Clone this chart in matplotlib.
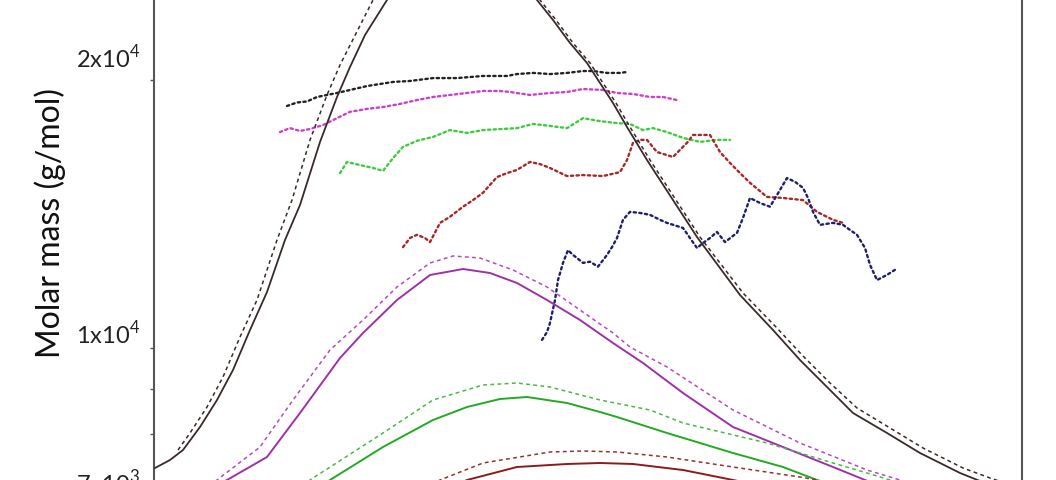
import numpy as np
import matplotlib
matplotlib.use('Agg')
import matplotlib.pyplot as plt
from matplotlib.transforms import ScaledTranslation

plt.rcParams['font.family'] = ['Lato', 'DejaVu Sans']
plt.rcParams['mathtext.fontset'] = 'custom'
plt.rcParams['mathtext.rm'] = 'Lato'

#####################################################################
# data
# x : elution volume (mL), signal : detector response (a.u.),
# molar mass : g/mol
#####################################################################

# concentration traces (solid = measured, dashed = second detector)
blk_x = [8.02, 8.32, 8.58, 8.92, 9.26, 9.58, 9.92, 10.26, 10.62, 10.92, 11.32, 11.66,
         11.92, 12.22, 12.66, 13.12, 13.72, 14.22, 14.72, 15.22, 15.66, 15.98, 16.32,
         16.66, 16.92, 17.18, 17.46, 17.86, 18.86, 19.72, 20.38, 20.92, 21.46, 21.98,
         22.66, 23.32, 24.12, 24.62, 25.32]
blk_s = [14.4, 16.0, 18.0, 22.6, 28.0, 34.0, 42.0, 49.6, 60.0, 67.0, 79.6, 88.6,
         94.6, 101.0, 108.0, 114.4, 118.0, 119.0, 118.0, 114.0, 108.0, 104.0, 99.4,
         95.4, 91.4, 87.4, 82.6, 76.0, 60.6, 49.0, 42.0, 36.0, 30.6, 25.4,
         21.4, 17.4, 13.4, 11.4, 9.0]
blk_dx = [8.48, 8.72, 9.06, 9.38, 9.72, 10.06, 10.46, 10.76, 11.12, 11.46, 11.72, 12.38,
          12.92, 13.52, 14.08, 14.62, 15.12, 15.72, 16.04, 16.38, 16.72, 16.98, 17.24,
          17.52, 17.92, 18.92, 19.78, 20.44, 20.98, 21.52, 22.06, 22.72, 23.38, 24.18,
          24.72, 25.32]
blk_ds = [18.0, 21.4, 26.6, 32.6, 40.6, 48.0, 60.0, 68.0, 80.0, 89.0, 95.0, 108.0,
          116.0, 120.0, 121.4, 120.4, 116.4, 108.0, 104.0, 99.4, 95.4, 91.4, 87.4,
          82.6, 76.0, 60.6, 49.4, 42.6, 36.8, 31.4, 26.4, 22.4, 18.4, 14.4,
          12.4, 10.4]

mag_x = [8.92, 9.46, 10.26, 10.92, 11.72, 12.18, 12.86, 13.52, 14.18, 14.72, 15.26,
         15.86, 16.52, 17.18, 17.78, 18.58, 19.58, 20.58, 21.58, 22.32, 22.92]
mag_s = [9.0, 12.0, 16.6, 25.4, 36.4, 41.4, 48.0, 53.0, 54.2, 53.4, 51.4,
         48.0, 44.0, 39.4, 35.4, 29.4, 22.6, 18.6, 14.6, 11.6, 9.6]
mag_dx = [8.72, 9.26, 10.12, 10.78, 11.52, 12.18, 12.86, 13.52, 13.98, 14.52, 15.18,
          15.86, 16.52, 17.18, 17.52, 18.26, 19.58, 20.92, 22.26, 22.92, 23.52]
mag_ds = [9.0, 12.0, 18.6, 28.0, 38.0, 44.0, 50.6, 55.4, 56.8, 56.4, 54.0,
          50.6, 46.0, 41.4, 38.6, 34.6, 26.0, 19.4, 14.0, 12.0, 10.0]

grn_x = [11.12, 11.52, 12.58, 13.58, 14.26, 14.92, 15.46, 16.26, 16.92, 17.26, 18.26,
         19.58, 20.58, 21.26, 21.92]
grn_s = [9.0, 12.0, 18.6, 24.0, 26.6, 28.2, 28.6, 27.4, 25.6, 24.6, 21.4,
         17.4, 14.6, 12.0, 10.0]
grn_dx = [10.62, 11.12, 12.58, 13.58, 14.58, 15.26, 15.92, 16.92, 17.92, 18.58, 20.26,
          21.58, 22.26, 22.92]
grn_ds = [9.0, 12.0, 21.4, 28.0, 31.0, 31.4, 30.6, 28.0, 26.0, 23.4, 19.4,
          15.4, 13.4, 11.4]

red_x = [13.72, 14.26, 15.26, 16.26, 16.92, 17.58, 18.58, 19.58, 20.52]
red_s = [9.0, 12.0, 14.6, 15.2, 15.4, 15.2, 14.0, 12.0, 10.0]
red_dx = [13.12, 13.72, 14.58, 15.92, 16.58, 17.26, 18.26, 19.58, 20.92, 21.26, 22.12]
red_ds = [9.0, 12.0, 15.4, 17.6, 17.8, 17.6, 16.6, 14.6, 12.6, 12.0, 10.0]

# molar mass across the peaks (dotted)
mw_blk_x = [10.66, 10.86, 11.06, 11.26, 11.46, 11.66, 11.92, 12.26, 12.78, 13.12, 13.58,
            14.06, 14.58, 15.06, 15.26, 15.58, 15.92, 16.26, 16.58, 16.78, 17.06, 17.32, 17.46]
mw_blk = [18700, 18870, 18920, 19140, 19240, 19340, 19490, 19690, 19900, 19950, 20100,
          20100, 20210, 20210, 20310, 20370, 20310, 20370, 20470, 20470, 20370, 20370, 20420]

mw_mag_x = [10.52, 10.72, 10.92, 11.12, 11.38, 11.66, 11.92, 12.26, 12.58, 12.92, 13.26,
            13.58, 13.92, 14.26, 14.58, 14.92, 15.12, 15.52, 15.92, 16.26, 16.58, 16.98,
            17.26, 17.58, 17.92, 18.18, 18.46]
mw_mag = [17480, 17660, 17530, 17620, 17800, 18120, 18420, 18560, 18650, 18800, 18990,
          19140, 19240, 19340, 19440, 19440, 19390, 19240, 19340, 19390, 19540, 19490,
          19340, 19290, 19140, 19140, 18990]

mw_grn_x = [11.72, 11.86, 12.12, 12.38, 12.58, 12.78, 12.98, 13.26, 13.58, 13.92, 14.26,
            14.58, 15.26, 15.58, 15.92, 16.26, 16.58, 16.92, 17.26, 17.52, 17.78, 17.98,
            18.26, 18.58, 18.92, 19.26, 19.52]
mw_grn = [15720, 16180, 16050, 15930, 15810, 16340, 16820, 17090, 17260, 17570, 17440,
          17570, 17660, 17850, 17760, 17660, 18120, 17980, 17890, 17850, 17570, 17660,
          17480, 17220, 17040, 17130, 17130]

mw_red_x = [12.98, 13.12, 13.26, 13.42, 13.52, 13.72, 13.92, 14.18, 14.38, 14.58, 14.72,
            14.86, 15.06, 15.26, 15.52, 15.72, 15.92, 16.26, 16.58, 16.98, 17.32, 17.46,
            17.58, 17.72, 17.86, 18.06, 18.38, 18.66, 18.78, 19.12, 19.32, 19.52, 19.72,
            19.92, 20.26, 20.58, 20.98, 21.26, 21.58, 21.78]
mw_red = [12980, 13290, 13400, 13290, 13150, 13820, 14040, 14410, 14660, 14940, 15250,
          15560, 15720, 15850, 16180, 16090, 15930, 15600, 15640, 15600, 15760, 16260,
          17000, 17130, 17130, 16600, 16390, 17000, 17350, 17350, 16600, 16140, 15720,
          15330, 14780, 14740, 14660, 14220, 13930, 13820]

mw_blu_x = [15.76, 15.86, 15.92, 16.02, 16.08, 16.18, 16.28, 16.38, 16.46, 16.58, 16.72,
            16.88, 17.06, 17.16, 17.26, 17.38, 17.52, 17.72, 17.92, 18.12, 18.26, 18.58,
            18.72, 18.86, 18.98, 19.12, 19.26, 19.42, 19.66, 19.78, 19.92, 20.12, 20.32,
            20.52, 20.66, 20.82, 20.98, 21.08, 21.18, 21.32, 21.58, 21.78, 21.92, 22.06,
            22.22, 22.32, 22.46, 22.66, 22.82]
mw_blu = [10210, 10420, 10670, 11320, 11920, 12460, 12880, 12720, 12620, 12460, 12500,
          12340, 12720, 12980, 13290, 13930, 14220, 14180, 14110, 13930, 13820, 13640,
          13290, 12950, 13120, 13290, 13500, 13150, 13470, 14000, 14740, 14550, 14410,
          15050, 15520, 15370, 15130, 14740, 14220, 13750, 13820, 13750, 13570, 13400,
          12950, 12400, 11920, 12080, 12240]

ytick_vals = [7e3, 1e4, 2e4]
ytick_text = [r'7x10$^{3}$', r'1x10$^{4}$', r'2x10$^{4}$']

#####################################################################
# plotting
#####################################################################
fig = plt.figure(figsize=(10.56, 4.8), dpi=100)
ax = fig.add_axes([154/1056., -60/480., 868/1056., 580/480.])
ax.set_yscale('log')
ax.set_xlim(8, 25.36)
ax.set_ylim(6085, 27280)

dot = dict(linestyle=(0, (1, 1.4)), lw=1.7, dash_capstyle='round')
ax.plot(mw_blk_x, mw_blk, color='#222222', **dot)
ax.plot(mw_mag_x, mw_mag, color='#cc3fcc', **dot)
ax.plot(mw_grn_x, mw_grn, color='#3ecc3e', **dot)
ax.plot(mw_red_x, mw_red, color='#a82828', **dot)
ax.plot(mw_blu_x, mw_blu, color='#20206a', **dot)

ax2 = ax.twinx()
ax2.set_ylim(0, 116)
ax2.set_yticks([])
for sp in ax2.spines.values():
    sp.set_visible(False)
dash = dict(linestyle=(0, (2.5, 2.2)), lw=1.1)
ax2.plot(blk_x, blk_s, color='#3a2a2a', lw=1.3)
ax2.plot(blk_dx, blk_ds, color='#3a2a2a', **dash)
ax2.plot(mag_x, mag_s, color='#a030a8', lw=1.4)
ax2.plot(mag_dx, mag_ds, color='#b84ab8', **dash)
ax2.plot(grn_x, grn_s, color='#22aa22', lw=1.4)
ax2.plot(grn_dx, grn_ds, color='#44bb44', **dash)
ax2.plot(red_x, red_s, color='#8a1c1c', lw=1.4)
ax2.plot(red_dx, red_ds, color='#963030', **dash)

ax.spines['top'].set_visible(False)
ax.spines['bottom'].set_visible(False)
for side in ['left', 'right']:
    ax.spines[side].set_color('#555555')
    ax.spines[side].set_linewidth(1.5)
ax.set_xticks([])
ax.set_yticks(ytick_vals)
ax.set_yticklabels(ytick_text)
ax.set_yticks([8e3, 9e3], minor=True)
ax.yaxis.set_minor_formatter(plt.NullFormatter())
ax.tick_params(axis='y', which='both', direction='out', length=3, width=1,
               color='#555555', labelsize=17, pad=7, labelcolor='#222222')
ax.set_ylabel('Molar mass (g/mol)', fontsize=23, color='#111111')
ax.yaxis.set_label_coords(-0.101, 0.547)

# labels in the source sit a little above their ticks
for tk, dy in zip(ax.yaxis.get_major_ticks(), [5, 16, 24]):
    tk.label1.set_transform(tk.label1.get_transform() +
                            ScaledTranslation(0, dy/100., fig.dpi_scale_trans))

plt.savefig('out.png', dpi=100)
plt.close()
